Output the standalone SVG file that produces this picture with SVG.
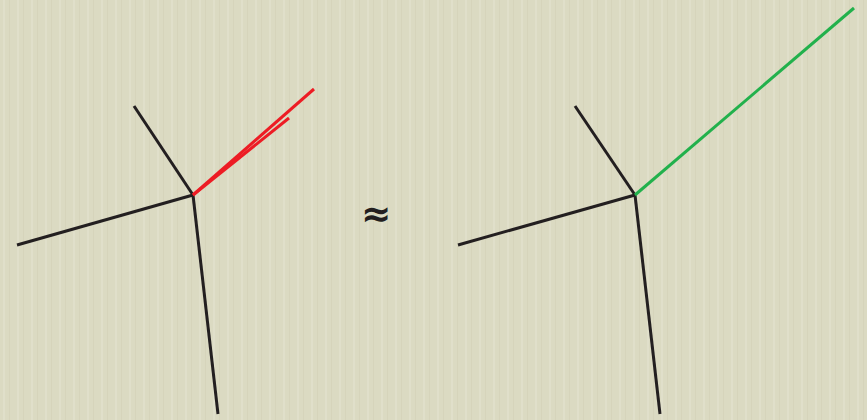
<svg xmlns="http://www.w3.org/2000/svg" width="867" height="420" viewBox="0 0 867 420">
<style>
.k{stroke:#231f20;stroke-width:3;fill:none;stroke-linecap:butt}
.r{stroke:#ed1c24;stroke-width:3;fill:none}
.g{stroke:#22b14c;stroke-width:3;fill:none}
.t{font-family:"DejaVu Sans",sans-serif;font-size:36px;font-weight:bold;fill:#231f20}
</style>
<defs>
<pattern id="tex" width="14" height="420" patternUnits="userSpaceOnUse">
<rect width="14" height="420" fill="#dbdac2"/>
<rect x="3" width="2" height="420" fill="#e3e2cd" opacity="0.7"/>
<rect x="9" width="1" height="420" fill="#d2d1b6" opacity="0.6"/>
</pattern>
</defs>
<rect width="867" height="420" fill="url(#tex)"/>
<g id="left">
<g id="connectors-left">
<line class="k" x1="193" y1="195" x2="134" y2="106"/>
<line class="k" x1="193" y1="195" x2="17" y2="245"/>
<line class="k" x1="193" y1="195" x2="218" y2="414"/>
<line class="r" x1="193" y1="195" x2="314" y2="89"/>
<line class="r" x1="193" y1="195" x2="289" y2="118"/>
</g>
</g>
<g id="approx"><text class="t" x="376" y="226" text-anchor="middle">≈</text></g>
<g id="right">
<g id="connectors-right">
<line class="k" x1="635" y1="195" x2="575" y2="106"/>
<line class="k" x1="635" y1="195" x2="458" y2="245"/>
<line class="k" x1="635" y1="195" x2="660" y2="414"/>
<line class="g" x1="635" y1="195" x2="854" y2="8"/>
</g>
</g>
</svg>
